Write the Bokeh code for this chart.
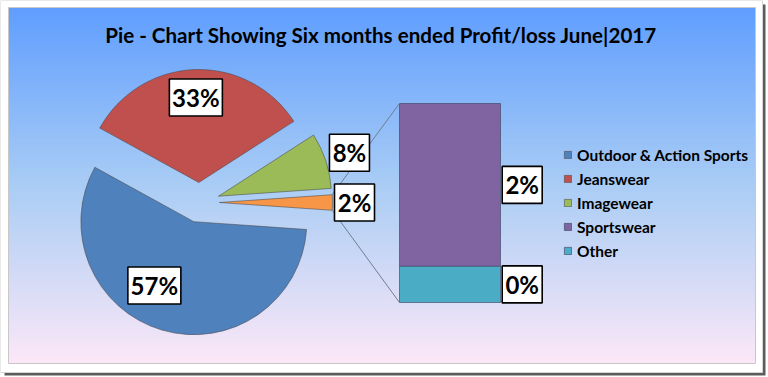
import numpy as np
from bokeh.plotting import figure
from bokeh.models import Range1d, Label, Legend, LegendItem, ColumnDataSource
from bokeh.embed import file_html
from bokeh.resources import INLINE
from bokeh.core.properties import value

# ---------------- data ----------------
title_text = "Pie - Chart Showing Six months ended Profit/loss June|2017"
categories = ["Outdoor & Action Sports", "Jeanswear", "Imagewear", "Sportswear", "Other"]
values = [56.9, 32.9, 8.0, 1.8, 0.4]
colors = ["#4F81BD", "#C0504D", "#9BBB59", "#8064A2", "#4BACC6"]
other_color = "#F79646"
n_pie = 3  # first three categories in the pie, rest in the bar

# ---------------- layout ----------------
W, H = 768, 377
FONT = "Lato"


def Y(py):
    return H - np.asarray(py, dtype=float)


p = figure(width=W, height=H, x_range=Range1d(0, W), y_range=Range1d(0, H),
           output_backend="svg", toolbar_location=None, min_border=0,
           x_axis_type=None, y_axis_type=None)
p.grid.visible = False
p.outline_line_color = None
p.background_fill_color = "white"
p.border_fill_color = "white"

# card with shadow
p.quad(left=4, right=765, top=float(Y(4)), bottom=float(Y(375)), fill_color="#5c5c5c", line_color=None)
p.quad(left=0, right=762, top=float(Y(0)), bottom=float(Y(372)), fill_color="white",
       line_color="#d4d4d4", line_width=1)

# gradient background
g_top, g_bot = 7, 363
nb = 178
edges = np.linspace(g_top, g_bot, nb + 1)
stop_pos = [0.0, 0.5, 1.0]
stop_rgb = [(96, 158, 255), (170, 205, 245), (252, 232, 248)]
tt = (edges[:-1] + edges[1:]) / 2
tt = (tt - g_top) / (g_bot - g_top)
band_cols = []
for t in tt:
    r = np.interp(t, stop_pos, [c[0] for c in stop_rgb])
    g = np.interp(t, stop_pos, [c[1] for c in stop_rgb])
    b = np.interp(t, stop_pos, [c[2] for c in stop_rgb])
    band_cols.append("#%02x%02x%02x" % (int(r), int(g), int(b)))
p.quad(left=8, right=755, top=Y(edges[:-1]), bottom=Y(np.minimum(edges[1:] + 0.6, g_bot)),
       fill_color=band_cols, line_color=None)
p.quad(left=8, right=755, top=float(Y(g_top)), bottom=float(Y(g_bot)), fill_color=None,
       line_color="#c8c8c8", line_width=1)

# ---------------- pie ----------------
pie_vals = values[:n_pie] + [sum(values[n_pie:])]
pie_cols = colors[:n_pie] + [other_color]
total = sum(pie_vals)
angs = [v / total * 2 * np.pi for v in pie_vals]
a_oth = angs[-1]
starts = [0.0] * len(pie_vals)
ends = [0.0] * len(pie_vals)
starts[-1], ends[-1] = -a_oth / 2, a_oth / 2
cur = a_oth / 2
for i in reversed(range(n_pie)):
    starts[i] = cur
    ends[i] = cur + angs[i]
    cur = ends[i]
mids = [(s + e) / 2 for s, e in zip(starts, ends)]

CX, CY = 199.0, float(Y(202))
R = 113.0
EXPLODE = 20.0
px = [CX + EXPLODE * np.cos(m) for m in mids]
py = [CY + EXPLODE * np.sin(m) for m in mids]

pie_src = ColumnDataSource(dict(x=px, y=py, start=starts, end=ends, color=pie_cols))
wedge_r = p.wedge(x="x", y="y", radius=R, start_angle="start", end_angle="end",
                  direction="anticlock", fill_color="color", line_color="#4a4a4a",
                  line_alpha=0.7, line_width=0.8, source=pie_src)

# ---------------- bar of pie ----------------
bar_vals = values[n_pie:]
bar_cols = colors[n_pie:]
BAR_L, BAR_R = 399, 500
BAR_BOT, BAR_TOP = float(Y(302)), float(Y(103))
scale = (BAR_TOP - BAR_BOT) / sum(bar_vals)
bots, tops = [0.0] * len(bar_vals), [0.0] * len(bar_vals)
base = BAR_BOT
for j in reversed(range(len(bar_vals))):
    bots[j] = base
    tops[j] = base + bar_vals[j] * scale
    base = tops[j]
bar_src = ColumnDataSource(dict(bottom=bots, top=tops, color=bar_cols))
bar_r = p.quad(left=BAR_L, right=BAR_R, bottom="bottom", top="top", fill_color="color",
               line_color="#3c4660", line_alpha=0.8, line_width=0.8, source=bar_src)

# connector lines from the "other" slice to the bar
ox, oy = px[-1], py[-1]
p.segment(x0=[ox + R * np.cos(ends[-1]), ox + R * np.cos(starts[-1])],
          y0=[oy + R * np.sin(ends[-1]), oy + R * np.sin(starts[-1])],
          x1=[BAR_L, BAR_L], y1=[BAR_TOP, BAR_BOT], line_color="#6f7f92", line_width=1)

# ---------------- data labels ----------------
lab_dist = [75, 85, 138, 135]
lab_adj = [np.radians(-15.4), 0, 0, 0]
lx, ly, lt = [], [], []
for i, v in enumerate(pie_vals):
    a = mids[i] + lab_adj[i]
    lx.append(px[i] + lab_dist[i] * np.cos(a))
    ly.append(py[i] + lab_dist[i] * np.sin(a))
    lt.append(f"{round(v / total * 100)}%")
for j, v in enumerate(bar_vals):
    lx.append(BAR_R + 21.7)
    ly.append((bots[j] + tops[j]) / 2)
    lt.append(f"{round(v / total * 100)}%")
lw = [14 + 13 * len(t) for t in lt]
lab_src = ColumnDataSource(dict(x=lx, y=ly, text=lt, w=lw))
p.rect(x="x", y="y", width="w", height=37, fill_color="white", line_color="black",
       line_width=1.6, source=lab_src)
p.text(x="x", y="y", text="text", text_align="center", text_baseline="middle",
       text_font=value(FONT), text_font_style="bold", text_font_size="24px",
       text_color="black", source=lab_src)

# ---------------- title ----------------
p.add_layout(Label(x=380.5, y=float(Y(34)), text=title_text, text_align="center",
                   text_baseline="alphabetic", text_font=FONT, text_font_style="bold",
                   text_font_size="20.6px", text_color="black"))

# ---------------- legend ----------------
items = [LegendItem(label=categories[i], renderers=[wedge_r], index=i) for i in range(n_pie)]
items += [LegendItem(label=categories[n_pie + j], renderers=[bar_r], index=j) for j in range(len(bar_vals))]
legend = Legend(items=items, location=(563, 116), orientation="vertical",
                background_fill_alpha=0, border_line_color=None, padding=0, margin=0,
                spacing=3, label_height=21, glyph_height=9, glyph_width=9, label_standoff=5,
                label_text_font=FONT, label_text_font_style="bold", label_text_font_size="15.5px",
                label_text_color="black")
p.add_layout(legend)

open("out.html", "w").write(file_html(p, INLINE))
